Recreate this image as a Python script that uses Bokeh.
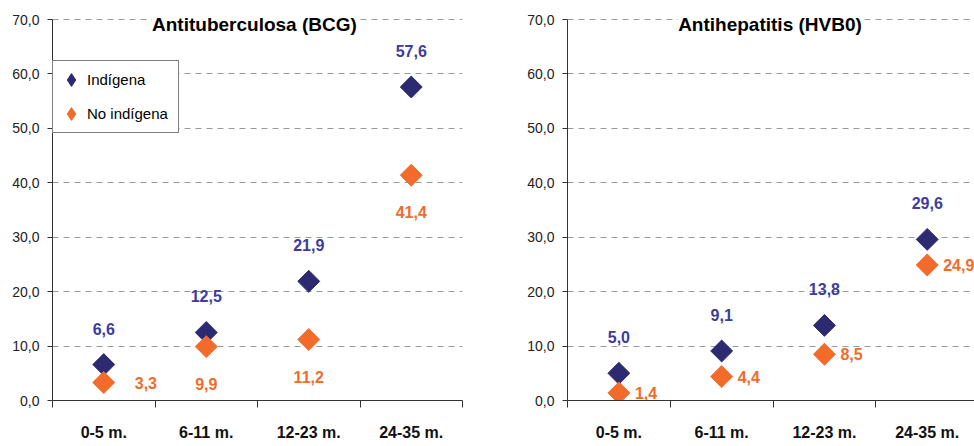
from bokeh.plotting import figure
from bokeh.layouts import row
from bokeh.models import (Range1d, FixedTicker, ColumnDataSource, Legend, LegendItem, Label)
from bokeh.core.properties import value
from bokeh.embed import file_html
from bokeh.resources import INLINE

# ---------------- data ----------------
categories = ["0-5 m.", "6-11 m.", "12-23 m.", "24-35 m."]
bcg_indigena = [6.6, 12.5, 21.9, 57.6]
bcg_no_indigena = [3.3, 9.9, 11.2, 41.4]
hvb_indigena = [5.0, 9.1, 13.8, 29.6]
hvb_no_indigena = [1.4, 4.4, 8.5, 24.9]
y_ticks = [0, 10, 20, 30, 40, 50, 60, 70]
y_tick_labels = ["0,0", "10,0", "20,0", "30,0", "40,0", "50,0", "60,0", "70,0"]
titles = ["Antituberculosa (BCG)", "Antihepatitis (HVB0)"]
series_names = ["Indígena", "No indígena"]

# ---------------- style ----------------
FONT = "Liberation Sans"
NAVY = "#2E2A72"
NAVY_TXT = "#3C3C9E"
ORANGE = "#F26B2A"
GRID = "#9A9A9A"
AXIS = "#333333"


def fmt(v):
    return f"{v:.1f}".replace(".", ",")


def make_chart(title, ind, noind, width, border_left, border_right, border_bottom,
               x_end, y_end, orange_dx, orange_dy, orange_align, legend=False):
    p = figure(width=width, height=446, output_backend="svg", toolbar_location=None,
               x_range=Range1d(0, x_end), y_range=Range1d(0, y_end),
               min_border_left=border_left, min_border_right=border_right,
               min_border_top=0, min_border_bottom=border_bottom)
    p.outline_line_color = None
    p.background_fill_color = "white"
    p.border_fill_color = "white"

    # grid
    p.xgrid.grid_line_color = None
    p.ygrid.ticker = FixedTicker(ticks=y_ticks)
    p.ygrid.grid_line_color = GRID
    p.ygrid.grid_line_dash = "6 5"
    p.ygrid.grid_line_width = 1

    # y axis
    ya = p.yaxis[0]
    ya.bounds = (y_ticks[0], y_ticks[-1])
    ya.ticker = FixedTicker(ticks=y_ticks, minor_ticks=[])
    ya.major_label_overrides = {t: l for t, l in zip(y_ticks, y_tick_labels)}
    ya.major_label_text_font = FONT
    ya.major_label_text_font_size = "14px"
    ya.major_label_text_color = "#222222"
    ya.major_label_standoff = 8
    ya.major_tick_out = 5
    ya.major_tick_in = 0
    ya.axis_line_color = AXIS
    ya.major_tick_line_color = AXIS

    # x axis: category labels at centers, boundary ticks as minor ticks
    centers = [i + 0.5 for i in range(len(categories))]
    xa = p.xaxis[0]
    xa.ticker = FixedTicker(ticks=centers, minor_ticks=list(range(len(categories) + 1)))
    xa.major_label_overrides = {c: t for c, t in zip(centers, categories)}
    xa.major_label_text_font = FONT
    xa.major_label_text_font_size = "16px"
    xa.major_label_text_font_style = "bold"
    xa.major_label_text_color = "#111111"
    xa.major_label_standoff = 16
    xa.major_tick_out = 0
    xa.major_tick_in = 0
    xa.minor_tick_out = 7
    xa.minor_tick_in = 0
    xa.minor_tick_line_color = AXIS
    xa.axis_line_color = AXIS

    # markers
    src_i = ColumnDataSource(dict(x=centers, y=ind, t=[fmt(v) for v in ind]))
    src_n = ColumnDataSource(dict(x=centers, y=noind, t=[fmt(v) for v in noind],
                                  dx=orange_dx, dy=orange_dy, al=orange_align))
    r_i = p.scatter("x", "y", source=src_i, marker="square", angle=0.785398,
                    size=15.5, fill_color=NAVY, line_color=NAVY)
    r_n = p.scatter("x", "y", source=src_n, marker="square", angle=0.785398,
                    size=15.5, fill_color=ORANGE, line_color=ORANGE)

    p.text("x", "y", text="t", source=src_i, y_offset=-36,
           text_font=value(FONT), text_font_size="16px", text_font_style="bold",
           text_color=NAVY_TXT, text_align="center", text_baseline="middle")
    p.text("x", "y", text="t", source=src_n, x_offset="dx", y_offset="dy",
           text_font=value(FONT), text_font_size="16px", text_font_style="bold",
           text_color=ORANGE, text_align="al", text_baseline="middle")

    # title inside plot with white background, centred on the top gridline
    p.add_layout(Label(x=1.97, y=y_ticks[-1], y_offset=-5, text=title, text_font=FONT,
                       text_font_size="19px", text_font_style="bold",
                       text_color="#000000", text_align="center",
                       text_baseline="middle", background_fill_color="white",
                       background_fill_alpha=1.0))

    if legend:
        # legend swatches (diamonds); their single point lies outside the visible range
        d_i = p.scatter(x=[-1], y=[-100], marker="diamond", fill_color=NAVY, line_color=NAVY)
        d_n = p.scatter(x=[-1], y=[-100], marker="diamond", fill_color=ORANGE, line_color=ORANGE)
        lg = Legend(items=[LegendItem(label=series_names[0], renderers=[d_i]),
                           LegendItem(label=series_names[1], renderers=[d_n])],
                    location=(0, 267), orientation="vertical",
                    padding=2, spacing=1, margin=0, label_standoff=0,
                    glyph_width=32, glyph_height=33, label_height=33, label_width=89,
                    label_text_font=FONT, label_text_font_size="15px",
                    label_text_color="#000000",
                    border_line_color="#000000", border_line_width=1,
                    background_fill_color="white", background_fill_alpha=1.0)
        p.add_layout(lg)
    return p


left = make_chart(titles[0], bcg_indigena, bcg_no_indigena, width=490,
                  border_left=52, border_right=28, border_bottom=46, x_end=4, y_end=73.5,
                  orange_dx=[31, 0, 0, 0], orange_dy=[0, 37, 37, 37],
                  orange_align=["left", "center", "center", "center"], legend=True)
right = make_chart(titles[1], hvb_indigena, hvb_no_indigena, width=484,
                   border_left=77, border_right=0, border_bottom=44, x_end=3.96, y_end=73.5,
                   orange_dx=[16, 16, 16, 16], orange_dy=[0, 0, 0, 0],
                   orange_align=["left", "left", "left", "left"])

layout = row(left, right)
open("out.html", "w").write(file_html(layout, INLINE))
